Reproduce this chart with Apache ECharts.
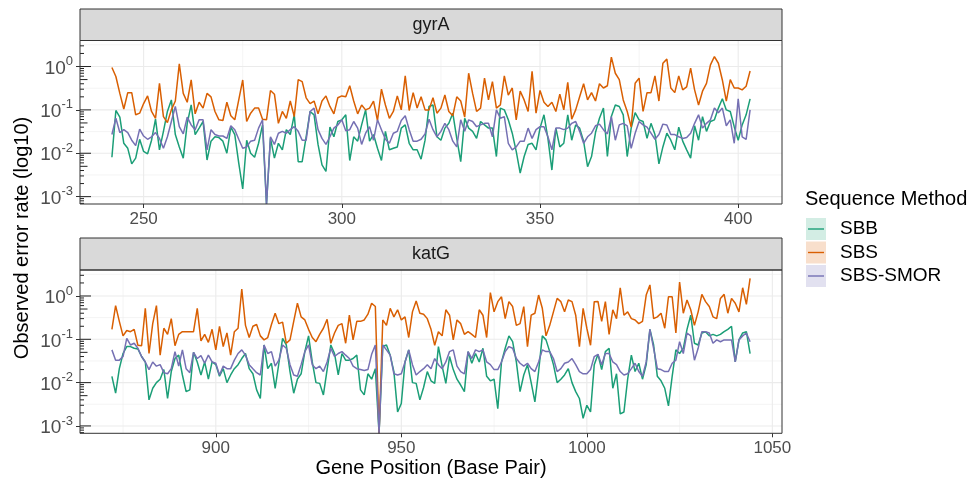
<!DOCTYPE html>
<html><head><meta charset="utf-8">
<script src="https://cdn.jsdelivr.net/npm/echarts@6/dist/echarts.min.js"></script>
<style>html,body{margin:0;padding:0;background:#fff}#c{width:971px;height:484px}</style>
</head><body><div id="c"></div>
<script>
// ---------------- DATA ----------------
const methods = ['SBB', 'SBS', 'SBS-SMOR'];
const genes = ['gyrA', 'katG'];
const gyrA_first = 242, gyrA_last = 403;
const katG_first = 872, katG_last = 1044;

const gyrA_SBB = [
0.0081,0.097,0.068,0.017,0.013,0.0057,0.0077,0.021,0.011,0.0097,
0.020,0.061,0.012,0.032,0.092,0.17,0.027,0.014,0.0077,0.049,
0.13,0.027,0.038,0.054,0.0070,0.019,0.024,0.023,0.019,0.010,
0.040,0.027,0.0059,0.0015,0.020,0.010,0.0081,0.017,0.045,0,
0.022,0.0077,0.017,0.012,0.035,0.027,0.077,0.0064,0.0064,0.024,
0.092,0.077,0.016,0.0054,0.0038,0.040,0.024,0.054,0.059,0.077,
0.0068,0.024,0.019,0.045,0.10,0.019,0.027,0.013,0.0068,0.032,
0.012,0.013,0.014,0.038,0.045,0.017,0.012,0.012,0.0073,0.020,
0.12,0.13,0.024,0.020,0.038,0.049,0.084,0.022,0.0064,0.064,
0.038,0.032,0.022,0.054,0.045,0.038,0.038,0.0084,0.11,0.10,
0.059,0.029,0.011,0.0035,0.0084,0.016,0.017,0.012,0.038,0.077,
0.022,0.0041,0.038,0.014,0.017,0.077,0.020,0.045,0.038,0.019,
0.0049,0.0084,0.030,0.064,0.11,0.0084,0.070,0.13,0.12,0.077,
0.0084,0.038,0.086,0.059,0.054,0.022,0.049,0.027,0.0057,0.014,
0.029,0.020,0.012,0.040,0.019,0.012,0.0077,0.043,0.020,0.070,
0.032,0.054,0.059,0.11,0.18,0.10,0.092,0.041,0.020,0.045,
0.077,0.18];

const gyrA_SBS = [
0.95,0.59,0.24,0.105,0.25,0.25,0.077,0.084,0.14,0.21,
0.092,0.064,0.41,0.070,0.051,0.10,0.16,1.15,0.24,0.15,
0.49,0.081,0.15,0.11,0.24,0.20,0.092,0.059,0.057,0.15,
0.073,0.059,0.17,0.49,0.054,0.084,0.11,0.11,0.061,0.059,
0.28,0.23,0.049,0.092,0.064,0.16,0.070,0.50,0.45,0.19,
0.14,0.16,0.081,0.16,0.21,0.12,0.081,0.19,0.21,0.20,
0.36,0.16,0.081,0.13,0.10,0.11,0.16,0.057,0.30,0.13,
0.064,0.092,0.21,0.10,0.61,0.097,0.25,0.11,0.20,0.10,
0.10,0.19,0.084,0.11,0.22,0.092,0.073,0.20,0.16,0.068,
0.70,0.24,0.092,0.11,0.54,0.17,0.45,0.11,0.13,0.61,
0.22,0.32,0.059,0.27,0.17,0.092,0.77,0.084,0.28,0.15,
0.12,0.15,0.092,0.23,0.10,0.43,0.061,0.10,0.20,0.40,
0.17,0.25,0.16,0.40,0.32,0.36,1.65,0.70,0.50,0.17,
0.092,0.040,0.41,0.54,0.092,0.25,0.25,0.61,0.16,1.19,
1.48,0.32,0.25,0.61,0.29,0.34,0.92,0.29,0.13,0.27,
0.41,1.09,1.70,1.19,0.49,0.16,0.50,0.32,0.32,0.29,
0.35,0.79];

const gyrA_SMOR = [
0.027,0.064,0.030,0.035,0.030,0.020,0.015,0.036,0.025,0.021,
0.024,0.030,0.022,0.013,0.024,0.054,0.12,0.041,0.028,0.068,
0.045,0.035,0.059,0.059,0.012,0.035,0.027,0.025,0.025,0.022,
0.043,0.035,0.021,0.013,0.014,0.019,0.020,0.038,0.059,0,
0.024,0.016,0.029,0.032,0.029,0.035,0.041,0.032,0.020,0.020,
0.092,0.11,0.035,0.022,0.016,0.024,0.038,0.045,0.059,0.033,
0.035,0.054,0.038,0.016,0.029,0.041,0.020,0.059,0.035,0.021,
0.017,0.029,0.032,0.057,0.073,0.035,0.019,0.019,0.021,0.028,
0.061,0.035,0.024,0.032,0.049,0.035,0.019,0.014,0.059,0.032,
0.059,0.054,0.041,0.045,0.049,0.049,0.024,0.10,0.064,0.070,
0.017,0.012,0.014,0.019,0.019,0.038,0.022,0.035,0.041,0.041,
0.024,0.012,0.038,0.038,0.035,0.038,0.049,0.054,0.032,0.017,
0.024,0.029,0.043,0.047,0.035,0.028,0.070,0.020,0.045,0.049,
0.043,0.013,0.029,0.054,0.045,0.040,0.029,0.021,0.027,0.047,
0.045,0.027,0.027,0.024,0.022,0.023,0.029,0.049,0.077,0.038,
0.049,0.059,0.11,0.086,0.11,0.043,0.059,0.017,0.18,0.024,
0.021,0.10];

const katG_SBB = [
0.014,0.0057,0.021,0.047,0.068,0.068,0.062,0.060,0.040,0.030,
0.0040,0.0074,0.010,0.012,0.020,0.0043,0.018,0.036,0.043,0.015,
0.0062,0.0068,0.050,0.030,0.015,0.030,0.012,0.030,0.026,0.014,
0.021,0.010,0.015,0.021,0.026,0.036,0.047,0.021,0.016,0.0068,
0.0043,0.074,0.021,0.028,0.0074,0.028,0.105,0.074,0.018,0.0057,
0.012,0.016,0.052,0.12,0.030,0.010,0.0096,0.0052,0.020,0.074,
0.047,0.015,0.047,0.033,0.033,0.036,0.043,0.0068,0.0052,0.016,
0.012,0.021,0,0.068,0.074,0.043,0.018,0.0021,0.0033,0.030,
0.057,0.010,0.0096,0.0040,0.0077,0.018,0.011,0.0096,0.068,0.024,
0.0096,0.040,0.020,0.012,0.0088,0.0062,0.052,0.028,0.047,0.030,
0.062,0.014,0.011,0.012,0.0025,0.030,0.062,0.12,0.088,0.030,
0.0062,0.015,0.026,0.010,0.0036,0.018,0.12,0.097,0.052,0.026,
0.010,0.012,0.015,0.021,0.010,0.0062,0.0043,0.0015,0.0030,0.0021,
0.026,0.045,0.020,0.052,0.062,0.0074,0.016,0.0019,0.0021,0.012,
0.043,0.018,0.028,0.012,0.026,0.17,0.074,0.014,0.011,0.0074,
0.0029,0.014,0.057,0.047,0.062,0.17,0.36,0.081,0.074,0.14,
0.15,0.12,0.13,0.12,0.13,0.15,0.17,0.20,0.030,0.097,
0.14,0.15,0.047];

const katG_SBS = [
0.17,0.60,0.26,0.12,0.16,0.15,0.17,0.073,0.071,0.52,
0.047,0.23,0.60,0.043,0.18,0.13,0.30,0.071,0.13,0.15,
0.15,0.15,0.15,0.52,0.092,0.13,0.085,0.17,0.057,0.20,
0.068,0.14,0.043,0.15,0.18,1.45,0.21,0.11,0.20,0.22,
0.12,0.097,0.11,0.22,0.40,0.23,0.25,0.081,0.097,0.26,
0.68,0.33,0.28,0.17,0.11,0.088,0.13,0.18,0.29,0.081,
0.14,0.21,0.23,0.081,0.36,0.097,0.26,0.26,0.28,0.38,
0.68,0.57,0,0.28,0.21,0.52,0.33,0.48,0.28,0.33,
0.11,0.43,0.77,0.40,0.38,0.30,0.17,0.073,0.15,0.12,
0.48,0.36,0.097,0.28,0.23,0.13,0.15,0.13,0.11,0.48,
0.36,0.11,1.2,0.43,0.74,0.96,0.30,0.74,0.57,0.21,
0.23,0.57,0.068,0.36,0.40,1.05,0.52,0.12,0.21,0.43,
0.88,0.74,0.43,0.81,0.74,0.36,0.068,0.52,0.18,0.073,
0.74,0.75,0.26,0.74,0.13,0.48,0.30,1.55,0.36,0.43,
0.30,0.28,0.23,0.26,1.05,1.8,0.30,0.33,0.40,0.18,
0.96,0.96,0.14,2.1,0.40,0.81,0.48,0.21,0.43,1.09,
0.74,0.57,0.33,0.30,0.88,1.09,0.40,0.88,0.68,0.43,
1.55,0.64,2.55];

const katG_SMOR = [
0.057,0.033,0.033,0.040,0.105,0.074,0.081,0.062,0.040,0.030,
0.020,0.030,0.024,0.026,0.017,0.016,0.021,0.052,0.024,0.057,
0.021,0.017,0.050,0.036,0.042,0.028,0.043,0.030,0.028,0.015,
0.024,0.021,0.021,0.033,0.047,0.057,0.043,0.026,0.021,0.017,
0.015,0.074,0.047,0.052,0.024,0.033,0.074,0.062,0.026,0.015,
0.014,0.026,0.052,0.074,0.026,0.021,0.024,0.018,0.030,0.062,
0.040,0.047,0.052,0.043,0.036,0.024,0.021,0.020,0.019,0.020,
0.045,0.074,0,0.074,0.057,0.043,0.016,0.015,0.016,0.030,
0.057,0.026,0.015,0.018,0.021,0.026,0.021,0.036,0.026,0.021,
0.030,0.052,0.057,0.024,0.018,0.016,0.052,0.036,0.057,0.052,
0.057,0.030,0.026,0.020,0.020,0.030,0.052,0.068,0.062,0.036,
0.028,0.024,0.028,0.021,0.018,0.030,0.057,0.052,0.052,0.036,
0.018,0.021,0.028,0.030,0.036,0.026,0.018,0.016,0.016,0.020,
0.040,0.045,0.026,0.047,0.047,0.030,0.026,0.018,0.015,0.016,
0.021,0.028,0.018,0.014,0.030,0.17,0.062,0.021,0.020,0.018,
0.018,0.028,0.033,0.088,0.047,0.14,0.12,0.033,0.062,0.15,
0.15,0.14,0.081,0.097,0.088,0.097,0.097,0.097,0.030,0.097,
0.12,0.14,0.088];

const gyrA_ticks = [250, 300, 350, 400];
const gyrA_minor = [275, 325, 375];
const katG_ticks = [900, 950, 1000, 1050];
const katG_minor = [875, 925, 975, 1025];
const y_ticks = [0.001, 0.01, 0.1, 1];
const y_minor = [Math.pow(10,-2.5), Math.pow(10,-1.5), Math.pow(10,-0.5), Math.pow(10,0.5)];

// ---------------- STYLE / LAYOUT ----------------
const COLORS = {'SBB':'#1b9e77', 'SBS':'#d95f02', 'SBS-SMOR':'#7570b3'};
const FILLS = {'SBB':'#d3ede4', 'SBS':'#f8dfcc', 'SBS-SMOR':'#e2e1f0'};
const FONT = '"Liberation Sans", Arial, Helvetica, sans-serif';
const L = 80, W = 702;
const PANELS = [{top:40.5, height:163.5, stripTop:9}, {top:270, height:163.3, stripTop:238}];
const Y_MIN = Math.pow(10, -3.17), Y_MAX = Math.pow(10, 0.6);

function range(a, b) { const r = []; for (let v = a; v <= b; v++) r.push(v); return r; }
const gyrA_pos = range(gyrA_first, gyrA_last);
const katG_pos = range(katG_first, katG_last);
function expand(a, b) { const d = (b - a) * 0.05; return [a - d, b + d]; }
const XR = [expand(gyrA_first, gyrA_last), expand(katG_first, katG_last)];

const seriesData = [
  {pos: gyrA_pos, vals: {'SBB': gyrA_SBB, 'SBS': gyrA_SBS, 'SBS-SMOR': gyrA_SMOR}},
  {pos: katG_pos, vals: {'SBB': katG_SBB, 'SBS': katG_SBS, 'SBS-SMOR': katG_SMOR}}
];

const series = [];
[[gyrA_ticks, gyrA_minor], [katG_ticks, katG_minor]].forEach((tk, gi) => {
  const vdata = tk[0].map(v => [v, Y_MIN, 1.1]).concat(tk[1].map(v => [v, Y_MIN, 0.55]));
  series.push({
    type: 'custom', xAxisIndex: gi, yAxisIndex: gi, silent: true, z: 1, animation: false,
    encode: {x: 0, y: 1}, data: vdata,
    renderItem: (p, api) => {
      const v = api.value(0), w = api.value(2);
      const a = api.coord([v, Y_MIN]), b = api.coord([v, Y_MAX]);
      return {type: 'line', shape: {x1: a[0], y1: a[1], x2: b[0], y2: b[1]}, style: {stroke: '#ebebeb', lineWidth: w}};
    }
  });
  const hdata = y_ticks.map(v => [XR[gi][0], v, 1.1]).concat(y_minor.map(v => [XR[gi][0], v, 0.55]));
  series.push({
    type: 'custom', xAxisIndex: gi, yAxisIndex: gi, silent: true, z: 1, animation: false,
    encode: {x: 0, y: 1}, data: hdata,
    renderItem: (p, api) => {
      const v = api.value(1), w = api.value(2);
      const a = api.coord([XR[gi][0], v]), b = api.coord([XR[gi][1], v]);
      return {type: 'line', shape: {x1: a[0], y1: a[1], x2: b[0], y2: b[1]}, style: {stroke: '#ebebeb', lineWidth: w}};
    }
  });
});

seriesData.forEach((sd, gi) => {
  methods.forEach(m => {
    series.push({
      type: 'line', name: m, xAxisIndex: gi, yAxisIndex: gi,
      data: sd.pos.map((x, i) => [x, sd.vals[m][i] > 0 ? sd.vals[m][i] : Y_MIN]),
      showSymbol: false, symbol: 'none', clip: true, z: 3, animation: false,
      lineStyle: {color: COLORS[m], width: 1.5}, itemStyle: {color: COLORS[m]}
    });
  });
});

const logTickVals = [];
for (let k = -4; k <= 0; k++) for (let mm = 1; mm <= 9; mm++) {
  const v = mm * Math.pow(10, k);
  if (v >= Y_MIN && v <= Y_MAX) logTickVals.push([mm === 1 ? 11 : (mm === 5 ? 7.5 : 4), v]);
}
[0, 1].forEach(gi => {
  series.push({
    type: 'custom', xAxisIndex: gi, yAxisIndex: gi, silent: true, z: 6, animation: false,
    encode: {x: 0, y: 1}, data: logTickVals.map(t => [XR[gi][0], t[1], t[0]]),
    renderItem: (p, api) => {
      const a = api.coord([XR[gi][0], api.value(1)]), len = api.value(2);
      return {type: 'line', shape: {x1: a[0], y1: a[1], x2: a[0] + len, y2: a[1]}, style: {stroke: '#222', lineWidth: 1}};
    }
  });
});

const xTicks = [gyrA_ticks, katG_ticks];
const grids = PANELS.map(p => ({left: L, top: p.top, width: W, height: p.height, show: false}));
const xAxes = [0, 1].map(gi => ({
  type: 'value', gridIndex: gi, min: XR[gi][0], max: XR[gi][1],
  axisLine: {show: false}, splitLine: {show: false}, minorSplitLine: {show: false},
  axisTick: {show: true, customValues: xTicks[gi], length: 4, lineStyle: {color: '#333', width: 1}},
  axisLabel: {customValues: xTicks[gi], color: '#4d4d4d', fontSize: 17, margin: 7, fontFamily: FONT,
              formatter: v => String(Math.round(v))},
  name: gi === 1 ? 'Gene Position (Base Pair)' : '',
  nameLocation: 'middle', nameGap: 24,
  nameTextStyle: {fontSize: 20, color: '#000', fontFamily: FONT}
}));
const yAxes = [0, 1].map(gi => ({
  type: 'log', logBase: 10, gridIndex: gi, min: Y_MIN, max: Y_MAX,
  axisLine: {show: false}, splitLine: {show: false},
  axisTick: {show: true, customValues: y_ticks, length: 4, lineStyle: {color: '#333', width: 1}},
  axisLabel: {
    customValues: y_ticks, margin: 7, fontFamily: FONT,
    formatter: v => '{b|10}{s|' + Math.round(Math.log10(v)) + '}',
    rich: {b: {fontSize: 19, color: '#4d4d4d', fontFamily: FONT, padding: [4, 0, 0, 0]},
           s: {fontSize: 13, color: '#4d4d4d', fontFamily: FONT, padding: [0, 0, 10, 0]}}
  }
}));

const graphic = [];
PANELS.forEach((p, gi) => {
  graphic.push({type: 'rect', z: 50, shape: {x: L, y: p.stripTop, width: W, height: p.top - p.stripTop},
    style: {fill: '#d9d9d9', stroke: '#333', lineWidth: 1}});
  graphic.push({type: 'text', z: 51, x: L + W / 2, y: (p.stripTop + p.top) / 2,
    style: {text: genes[gi], fontSize: 18, fill: '#1a1a1a', fontFamily: FONT, align: 'center', verticalAlign: 'middle'}});
  graphic.push({type: 'rect', z: 60, shape: {x: L, y: p.top, width: W, height: p.height},
    style: {fill: 'none', stroke: '#333', lineWidth: 1}});
});
graphic.push({type: 'text', z: 51, x: 22, y: 238, rotation: Math.PI / 2,
  style: {text: 'Observed error rate (log10)', fontSize: 20, fill: '#000', fontFamily: FONT, align: 'center', verticalAlign: 'middle'}});
graphic.push({type: 'text', z: 51, x: 805, y: 199,
  style: {text: 'Sequence Method', fontSize: 20, fill: '#000', fontFamily: FONT, align: 'left', verticalAlign: 'middle'}});
methods.forEach((m, i) => {
  const y0 = 218 + i * 23.5;
  graphic.push({type: 'rect', z: 51, shape: {x: 806, y: y0, width: 20, height: 22}, style: {fill: FILLS[m]}});
  graphic.push({type: 'line', z: 52, shape: {x1: 808, y1: y0 + 11, x2: 824, y2: y0 + 11}, style: {stroke: COLORS[m], lineWidth: 1.4}});
  graphic.push({type: 'text', z: 52, x: 840, y: y0 + 11,
    style: {text: m, fontSize: 19, fill: '#000', fontFamily: FONT, align: 'left', verticalAlign: 'middle'}});
});

const chart = echarts.init(document.getElementById('c'), null, {renderer: 'canvas'});
chart.setOption({
  backgroundColor: '#fff', animation: false,
  textStyle: {fontFamily: FONT},
  grid: grids, xAxis: xAxes, yAxis: yAxes, series: series, graphic: graphic
});
</script></body></html>
